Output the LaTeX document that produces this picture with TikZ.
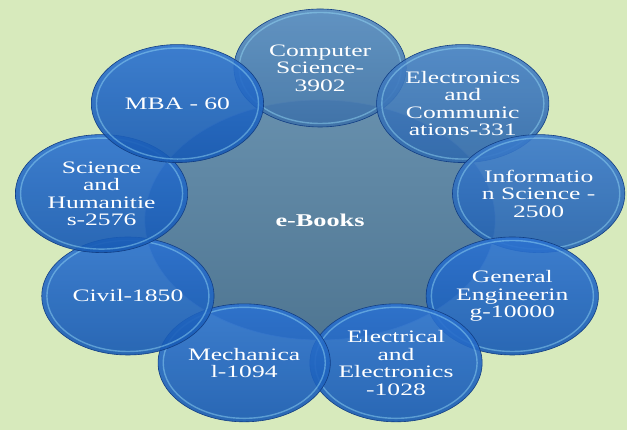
\documentclass[tikz,border=0pt]{standalone}
\usepackage{fontspec}
\setmainfont{Liberation Serif}
\definecolor{leafgreen}{RGB}{215,234,188}
\definecolor{hubfill}{RGB}{90,134,166}
\definecolor{spokeblue}{RGB}{26,102,204}
\definecolor{spokesteel}{RGB}{70,128,190}
\definecolor{rimblue}{RGB}{18,62,132}
\begin{document}
\begin{tikzpicture}[
        xscale=1.46,
        hub/.style={circle,transform shape,minimum size=240pt,inner sep=0pt,
            top color=hubfill!92!white,bottom color=hubfill!88!black,
            draw=white!55!hubfill,line width=0.6pt,text=white,
            font=\bfseries\fontsize{18}{18}\selectfont},
        spoke/.style={circle,transform shape,minimum size=118pt,inner sep=0pt,
            align=center,draw=rimblue,line width=0.6pt,fill opacity=0.9,
            text opacity=1,text=white,font=\fontsize{17.5}{17.5}\selectfont},
        glint/.style={circle,transform shape,minimum size=111pt,inner sep=0pt,
            draw=white!60!cyan,draw opacity=0.45,line width=1.4pt}
    ]
    \fill[leafgreen] (0,0) rectangle (429.45pt,430pt);
    \useasboundingbox (0,0) rectangle (429.45pt,430pt);
    \node[hub] (hub) at (219.2pt,210pt) {e-Books};
    % spokes clockwise from the top
    \foreach \ang/\mix/\txt [count=\i] in {
        90/0/{Computer\\Science-\\3902},
        50/35/{Electronics\\and\\Communic\\ations-331},
        10/65/{Informatio\\n Science -\\2500},
        -30/100/{General\\Engineerin\\g-10000},
        -70/100/{Electrical\\and\\Electronics\\-1028},
        -110/100/{Mechanica\\l-1094},
        -150/100/{Civil-1850},
        -190/100/{Science\\and\\Humanitie\\s-2576},
        -230/100/{MBA - 60}}
    {
        \colorlet{spokecol}{spokeblue!\mix!spokesteel}
        \path (hub) ++(\ang:152pt) node[spoke,top color=spokecol!92!white,
            bottom color=spokecol!88!black] (spoke\i) {\txt};
        \node[glint] at (spoke\i) {};
    }
\end{tikzpicture}
\end{document}
